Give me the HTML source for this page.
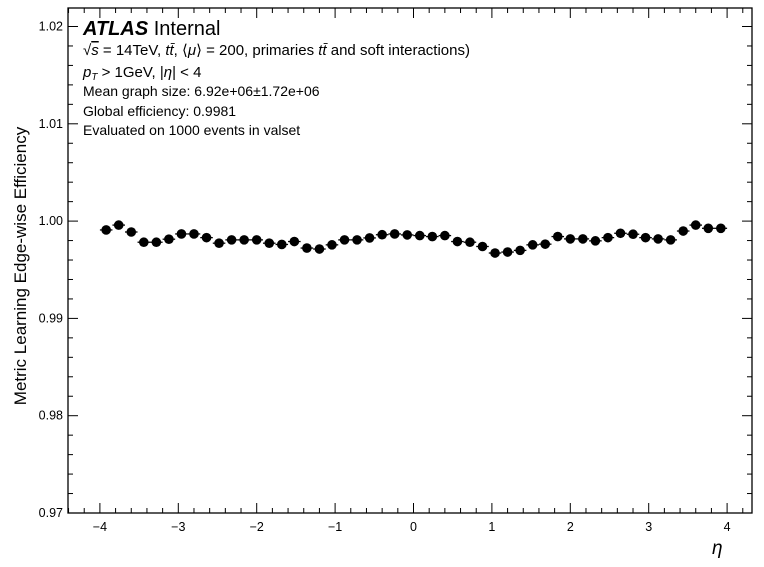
<!DOCTYPE html>
<html><head><meta charset="utf-8"><style>
body{margin:0;background:#fff}
svg text{font-family:"Liberation Sans",sans-serif;fill:#000}
</style></head><body>
<svg id="c" width="764" height="562" xmlns="http://www.w3.org/2000/svg">
<g id="axes"></g><g id="marks"></g>
<g>
<text x="83" y="35" font-size="20" font-weight="bold" font-style="italic">ATLAS <tspan font-weight="normal" font-style="normal">Internal</tspan></text>
<text x="83" y="55" font-size="15">√<tspan text-decoration="overline" font-style="italic">s</tspan> = 14TeV, <tspan font-style="italic">tt̄</tspan>, ⟨<tspan font-style="italic">μ</tspan>⟩ = 200, primaries <tspan font-style="italic">tt̄</tspan> and soft interactions)</text>
<text x="83" y="77" font-size="15"><tspan font-style="italic">p<tspan font-size="10" dy="3">T</tspan></tspan><tspan dy="-3"> &gt; 1GeV, |</tspan><tspan font-style="italic">η</tspan>| &lt; 4</text>
<text x="83" y="96" font-size="14">Mean graph size: 6.92e+06±1.72e+06</text>
<text x="83" y="116" font-size="14">Global efficiency: 0.9981</text>
<text x="83" y="135" font-size="14">Evaluated on 1000 events in valset</text>
</g>
<text transform="translate(26,266) rotate(-90)" text-anchor="middle" font-size="17">Metric Learning Edge-wise Efficiency</text>
<text x="712" y="554" font-size="19" font-style="italic">η</text>
</svg>
<script>
const values=[0.99909,0.99959,0.99888,0.99783,0.99783,0.99814,0.99868,0.99868,0.9983,0.99773,0.99807,0.99807,0.99807,0.99773,0.9976,0.9979,0.99723,0.99713,0.99756,0.99807,0.99807,0.99827,0.9986,0.99868,0.99858,0.99851,0.99841,0.99851,0.9979,0.99783,0.99739,0.99672,0.99682,0.99699,0.99756,0.99763,0.99841,0.99817,0.99817,0.99797,0.9983,0.99875,0.99865,0.9983,0.99817,0.99807,0.99898,0.99959,0.99926,0.99926];
const binLow=-4, binWidth=0.16;
const xTicks=[-4,-3,-2,-1,0,1,2,3,4];
const yTicks=[0.97,0.98,0.99,1.00,1.01,1.02];
const yLabels=["0.97","0.98","0.99","1.00","1.01","1.02"];
const L=68,R=752,T=8,B=513;
const X=v=>413.5+v*78.4;
const Y=v=>513-(v-0.97)*9730;
const NS="http://www.w3.org/2000/svg";
function mk(p,t,a){const e=document.createElementNS(NS,t);for(const k in a)e.setAttribute(k,a[k]);p.appendChild(e);return e;}
const ax=document.getElementById('axes'),mg=document.getElementById('marks');
const fr=mk(ax,'rect',{x:L,y:T,width:R-L,height:B-T,fill:'none',stroke:'#000','stroke-width':1.3});


for(let v=-4.4;v<=4.35;v+=0.2){const x=X(Math.round(v*10)/10);if(x<L||x>R)continue;const maj=Math.abs(Math.round(v*10)/10%1)<1e-6;const len=maj?10:5;
mk(ax,'line',{x1:x,x2:x,y1:B,y2:B-len,stroke:'#000'});mk(ax,'line',{x1:x,x2:x,y1:T,y2:T+len,stroke:'#000'});}
for(let v=0.97;v<=1.0205;v+=0.002){const y=Y(v);const maj=Math.abs(Math.round(v*1000)%10)<1;const len=maj?10:5;
mk(ax,'line',{x1:L,x2:L+len,y1:y,y2:y,stroke:'#000'});mk(ax,'line',{x1:R,x2:R-len,y1:y,y2:y,stroke:'#000'});}
xTicks.forEach(t=>{const e=mk(ax,'text',{x:X(t),y:531,'text-anchor':'middle','font-size':12.5});e.textContent=t<0?'−'+(-t):String(t);

});
yTicks.forEach((t,i)=>{const e=mk(ax,'text',{x:L-5,y:Y(t)+4,'text-anchor':'end','font-size':12.5});e.textContent=yLabels[i];

});
values.forEach((v,i)=>{const lo=binLow+i*binWidth,c=lo+binWidth/2;
mk(mg,'line',{x1:X(lo),x2:X(lo+binWidth),y1:Y(v),y2:Y(v),stroke:'#000','stroke-width':1.3});
const p=mk(mg,'circle',{cx:X(c),cy:Y(v),r:4.8,fill:'#000'});

});
</script>
</body></html>
